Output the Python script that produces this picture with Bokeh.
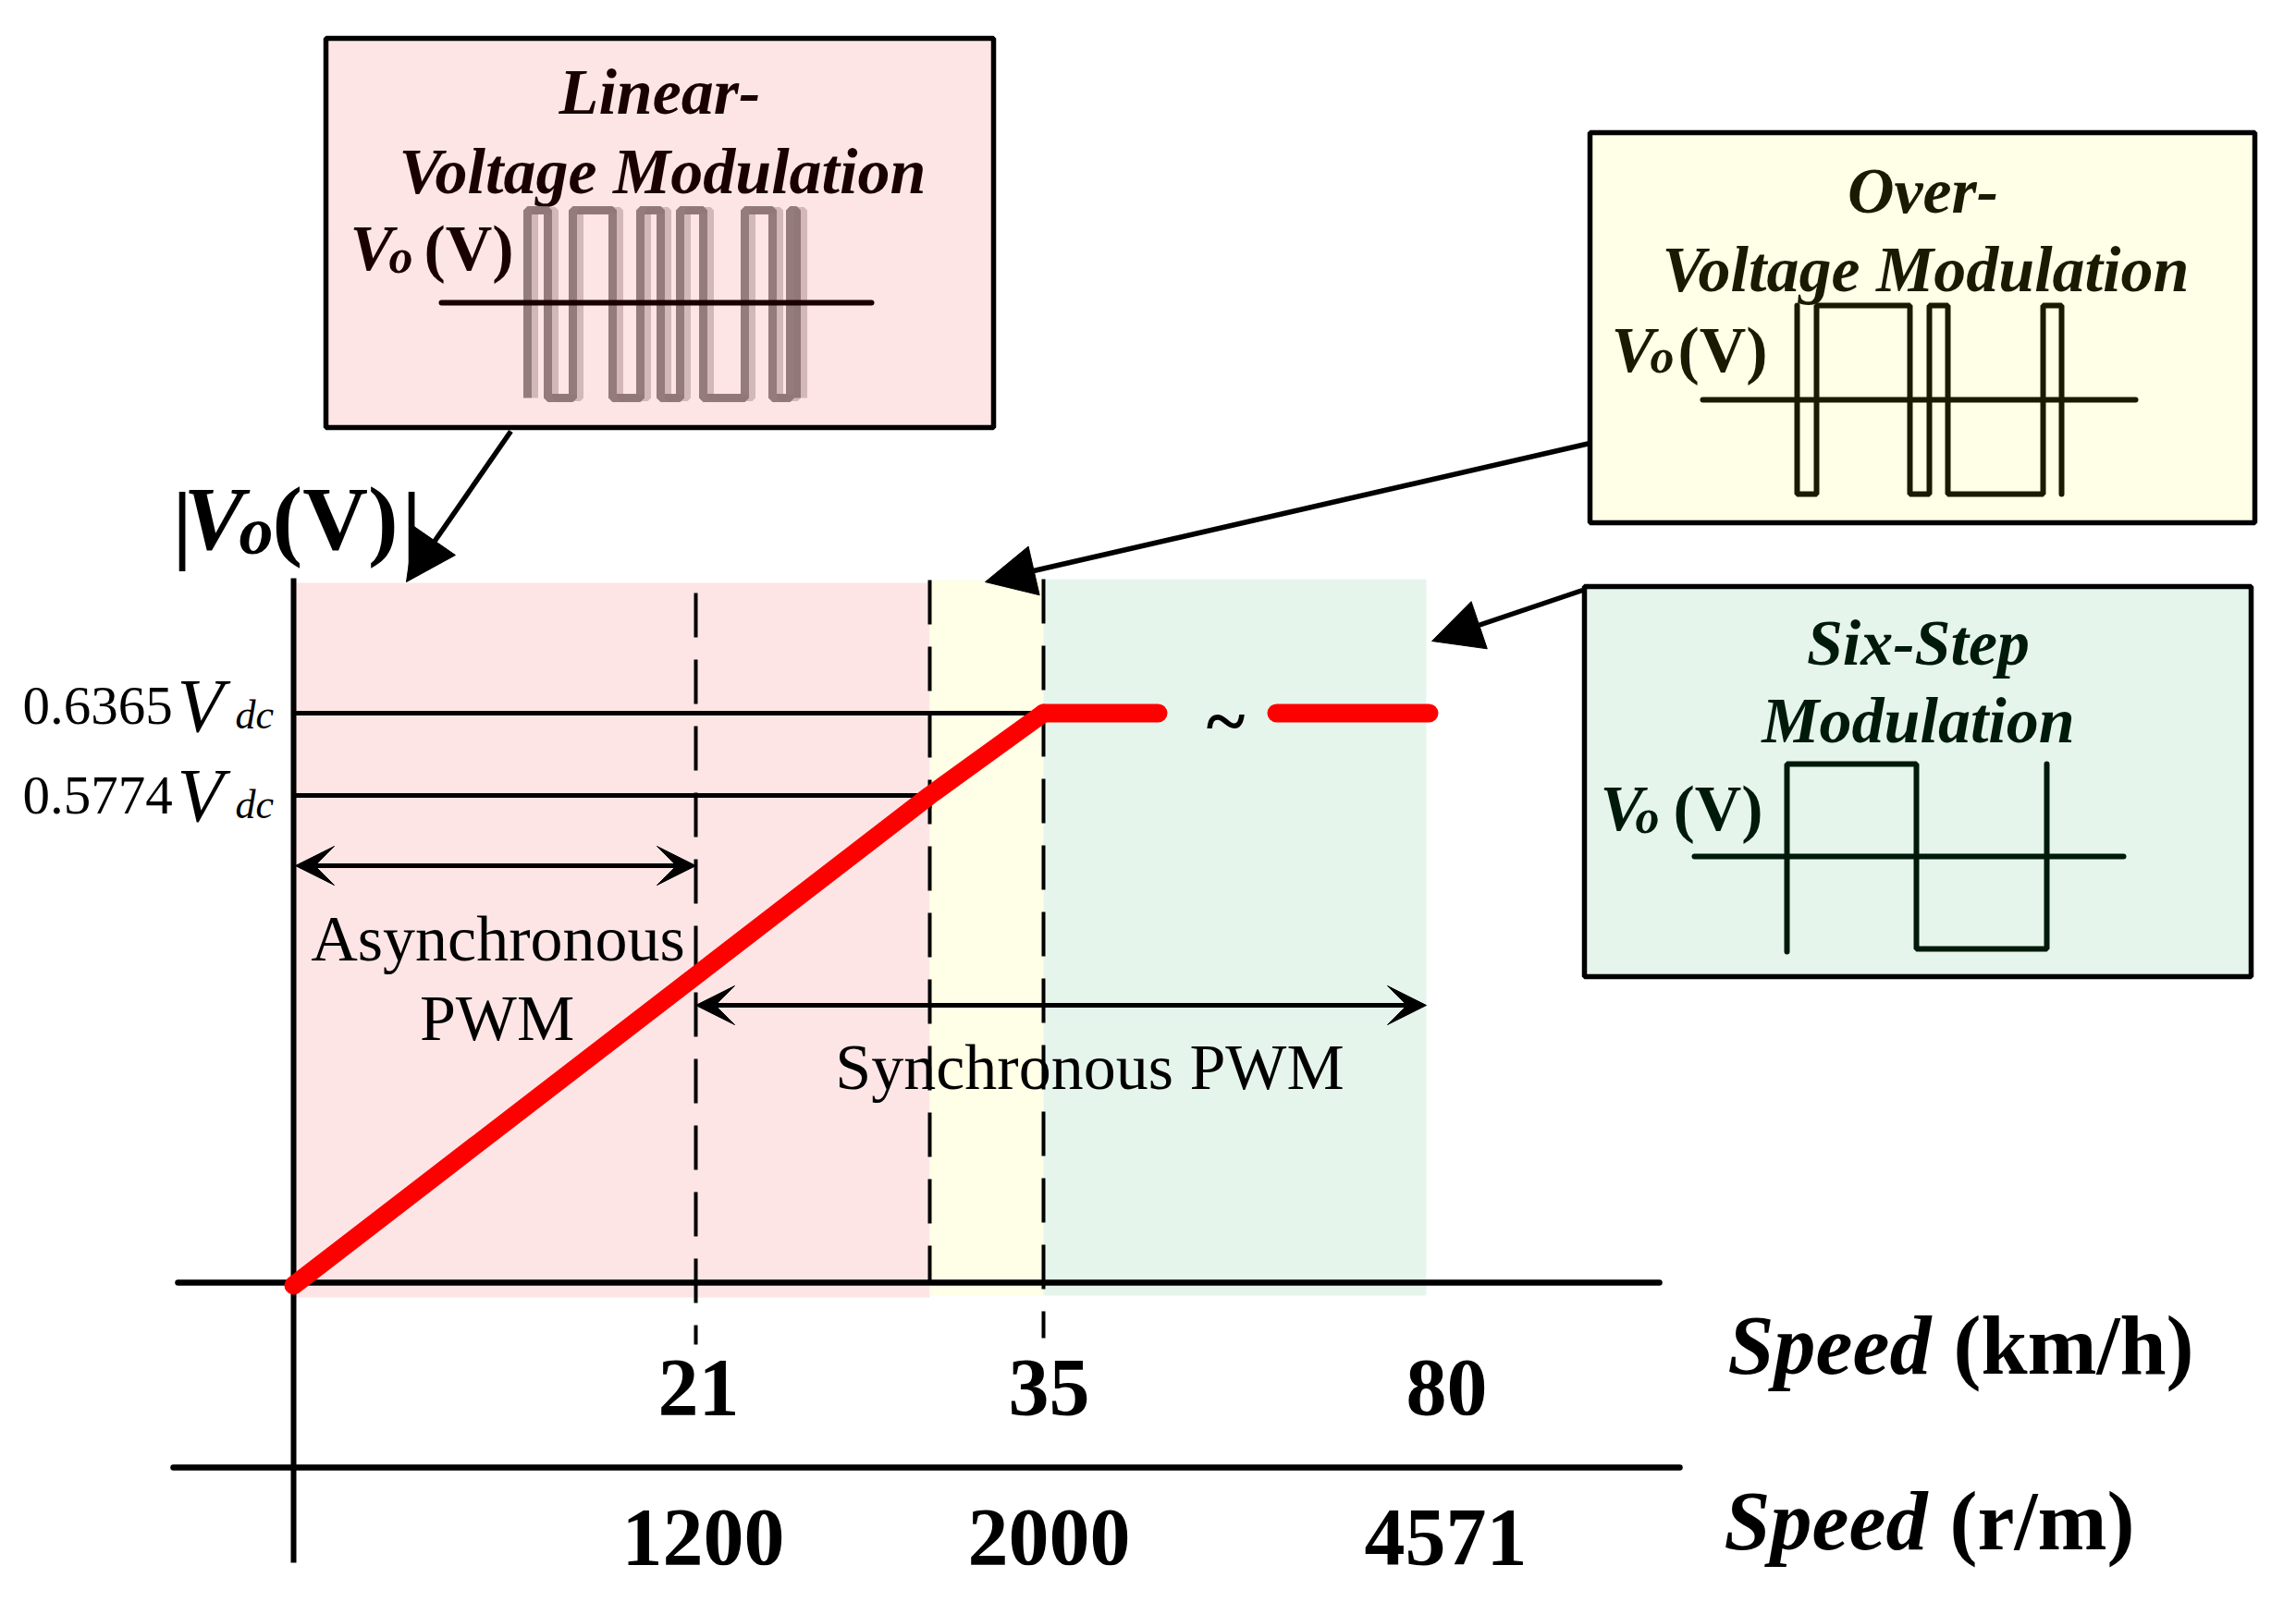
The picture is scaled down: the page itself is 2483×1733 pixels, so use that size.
from bokeh.plotting import figure
from bokeh.models import Range1d, Arrow, NormalHead, VeeHead
from bokeh.core.properties import value
from bokeh.embed import file_html
from bokeh.resources import INLINE

# ---------------- data / labels ----------------
kmh_ticks = ["21", "35", "80"]
rpm_ticks = ["1200", "2000", "4571"]
voltage_levels = ["0.6365", "0.5774"]
region_names = ["Linear-Voltage Modulation", "Over-Voltage Modulation", "Six-Step Modulation"]
region_colors = ["#FDE5E5", "#FFFEE6", "#E5F5EC"]

# diagram positions (schematic axes)
speed_pos = [325, 760, 1013, 1136, 1550]      # 0, 21 km/h, over-mod start, 35 km/h, 80 km/h
volt_pos = [1398, 868, 779]                   # 0, 0.5774 Vdc, 0.6365 Vdc
tick_label_x_kmh = [763, 1142, 1572]
tick_label_x_rpm = [768, 1142, 1571]

# red |Vo| curve (linear rise, then constant six-step level)
curve_x = [speed_pos[0], speed_pos[2], speed_pos[3]]
curve_y = [volt_pos[0], volt_pos[1], volt_pos[2]]
flat_x0 = [speed_pos[3], 1388]
flat_x1 = [1260, 1553]

# waveform transitions inside the boxes
lin_trans = [578, 600, 627, 670, 700, 722, 743, 768, 813, 843, 862, 869]
over_trans = [1951, 1972, 2073, 2094, 2114, 2217, 2237]
six_trans = [1940, 2080, 2221]

FONT = value("Liberation Serif")
TEXT_DY = -19

p = figure(width=2467, height=1717, output_backend="svg", toolbar_location=None,
           x_range=Range1d(8, 2475), y_range=Range1d(1725, 8), min_border=0)
p.axis.visible = False
p.grid.visible = False
p.outline_line_color = None
p.background_fill_color = "white"


def txt(x, y, s, size, style="normal", align="left", color="black"):
    p.text(x=[x], y=[y + TEXT_DY], text=[s], text_font=FONT, text_font_size=f"{size}px",
           text_font_style=style, text_align=align, text_baseline="alphabetic",
           text_color=color)


def step_wave(trans, start_level, top, bot):
    xs, ys = [], []
    lvl = start_level
    for t in trans:
        xs += [t, t]
        ys += [top if lvl else bot, bot if lvl else top]
        lvl = not lvl
    return xs, ys


# ---------------- background regions ----------------
p.quad(left=[speed_pos[0]], right=[speed_pos[2]], top=[638], bottom=[1411],
       fill_color=region_colors[0], line_color=None)
p.quad(left=[speed_pos[2]], right=[speed_pos[3]], top=[635], bottom=[1409],
       fill_color=region_colors[1], line_color=None)
p.quad(left=[speed_pos[3]], right=[speed_pos[4]], top=[634], bottom=[1409],
       fill_color=region_colors[2], line_color=None)

# ---------------- dashed guides ----------------
p.segment(x0=[speed_pos[1], speed_pos[2], speed_pos[3]], y0=[649, 635, 634],
          x1=[speed_pos[1], speed_pos[2], speed_pos[3]], y1=[1462, 1395, 1455],
          line_color="black", line_width=4, line_dash="48 24")

# level lines
p.segment(x0=[speed_pos[0], speed_pos[0]], y0=[volt_pos[2], volt_pos[1]],
          x1=[speed_pos[3], speed_pos[2]], y1=[volt_pos[2], volt_pos[1]],
          line_color="black", line_width=5)
p.segment(x0=[speed_pos[2]], y0=[volt_pos[1]], x1=[speed_pos[2]], y1=[882],
          line_color="black", line_width=4)

# axes
p.segment(x0=[speed_pos[0]], y0=[633], x1=[speed_pos[0]], y1=[1698],
          line_color="black", line_width=6)
p.segment(x0=[200, 195], y0=[1395, 1595], x1=[1802, 1824], y1=[1395, 1595],
          line_color="black", line_width=6.5, line_cap="round")

# red curve
p.line(curve_x, curve_y, line_color="#FF0000", line_width=20, line_cap="round",
       line_join="round")
p.segment(x0=flat_x0, y0=[volt_pos[2]] * 2, x1=flat_x1, y1=[volt_pos[2]] * 2,
          line_color="#FF0000", line_width=20, line_cap="round")
txt(1333, 806, "~", 80, "bold", "center")

# double arrows
p.add_layout(Arrow(start=VeeHead(size=42, fill_color="black", line_color="black"),
                   end=VeeHead(size=42, fill_color="black", line_color="black"),
                   x_start=speed_pos[0] + 2, y_start=944, x_end=speed_pos[1], y_end=944,
                   line_width=5, line_color="black"))
p.add_layout(Arrow(start=VeeHead(size=42, fill_color="black", line_color="black"),
                   end=VeeHead(size=42, fill_color="black", line_color="black"),
                   x_start=speed_pos[1], y_start=1095, x_end=speed_pos[4], y_end=1095,
                   line_width=5, line_color="black"))

# region texts
txt(546, 1042, "Asynchronous", 70, "normal", "center")
txt(545, 1128, "PWM", 70, "normal", "center")
txt(1186, 1181, "Synchronous PWM", 70, "normal", "center")

# level labels
txt(32, 790, voltage_levels[0], 59)
txt(199, 790, "V", 82, "italic")
txt(262, 800, "dc", 44, "italic")
txt(32, 887, voltage_levels[1], 59)
txt(199, 887, "V", 82, "italic")
txt(262, 897, "dc", 44, "italic")

# y label |Vo(V)|
txt(194, 592, "|", 96, "bold")
txt(206, 587, "V", 98, "bold italic")
txt(266, 600, "o", 74, "bold italic")
txt(302, 587, "(V)", 98, "bold")
txt(442, 592, "|", 96, "bold")

# x tick labels
for xx, s in zip(tick_label_x_kmh, kmh_ticks):
    txt(xx, 1527, s, 88, "bold", "center")
for xx, s in zip(tick_label_x_rpm, rpm_ticks):
    txt(xx, 1689, s, 88, "bold", "center")

txt(1876, 1482, "Speed", 90, "bold italic")
txt(2120, 1482, "(km/h)", 90, "bold")
txt(1872, 1672, "Speed", 90, "bold italic")
txt(2116, 1672, "(r/m)", 90, "bold")

# ---------------- callout boxes ----------------
boxes = [(360, 1082, 49, 470), (1727, 2446, 151, 573), (1721, 2442, 642, 1064)]
box_text_colors = ["#1A0000", "#1A1A00", "#001A0A"]
for (l, r, t, b), fc in zip(boxes, region_colors):
    p.quad(left=[l], right=[r], top=[t], bottom=[b], fill_color=fc,
           line_color="black", line_width=5.5)

# pointer arrows
for (xs_, ys_, xe, ye) in [(560, 474, 447, 637), (1727, 487, 1073, 637), (1719, 646, 1556, 701)]:
    p.add_layout(Arrow(end=NormalHead(size=54, fill_color="black", line_color="black"),
                       x_start=xs_, y_start=ys_, x_end=xe, y_end=ye,
                       line_width=5.5, line_color="black"))

# box 1: linear
c1 = box_text_colors[0]
txt(721, 126, "Linear-", 70, "bold italic", "center", c1)
txt(724, 212, "Voltage Modulation", 70, "bold italic", "center", c1)
txt(386, 295, "V", 70, "bold italic", color=c1)
txt(428, 304, "o", 52, "bold italic", color=c1)
txt(466, 295, "(V)", 70, "bold", color=c1)
gx, gy = step_wave(lin_trans, False, 235, 438)
p.line([g + 8 for g in gx], gy, line_color="#B89A9A", line_width=7, line_alpha=0.6)
p.line(gx, gy, line_color="#8A7070", line_width=9, line_alpha=0.9)
p.segment(x0=[485], y0=[335], x1=[950], y1=[335], line_color=c1, line_width=6,
          line_cap="round")

# box 2: over-modulation
c2 = box_text_colors[1]
txt(2087, 233, "Over-", 70, "bold italic", "center", c2)
txt(2090, 318, "Voltage Modulation", 70, "bold italic", "center", c2)
txt(1750, 405, "V", 70, "bold italic", color=c2)
txt(1792, 412, "o", 52, "bold italic", color=c2)
txt(1822, 405, "(V)", 70, "bold", color=c2)
p.segment(x0=[1849], y0=[440], x1=[2317], y1=[440], line_color=c2, line_width=6,
          line_cap="round")
ox, oy = step_wave(over_trans, True, 338, 542)
p.line(ox, oy, line_color=c2, line_width=6, line_cap="round")

# box 3: six-step
c3 = box_text_colors[2]
txt(2082, 722, "Six-Step", 70, "bold italic", "center", c3)
txt(2082, 806, "Modulation", 70, "bold italic", "center", c3)
txt(1738, 901, "V", 70, "bold italic", color=c3)
txt(1776, 910, "o", 52, "bold italic", color=c3)
txt(1817, 901, "(V)", 70, "bold", color=c3)
p.segment(x0=[1840], y0=[934], x1=[2304], y1=[934], line_color=c3, line_width=6,
          line_cap="round")
sx = [six_trans[0], six_trans[0], six_trans[1], six_trans[1], six_trans[2], six_trans[2]]
sy = [1037, 834, 834, 1034, 1034, 834]
p.line(sx, sy, line_color=c3, line_width=6, line_cap="round")

open("out.html", "w").write(file_html(p, INLINE))
